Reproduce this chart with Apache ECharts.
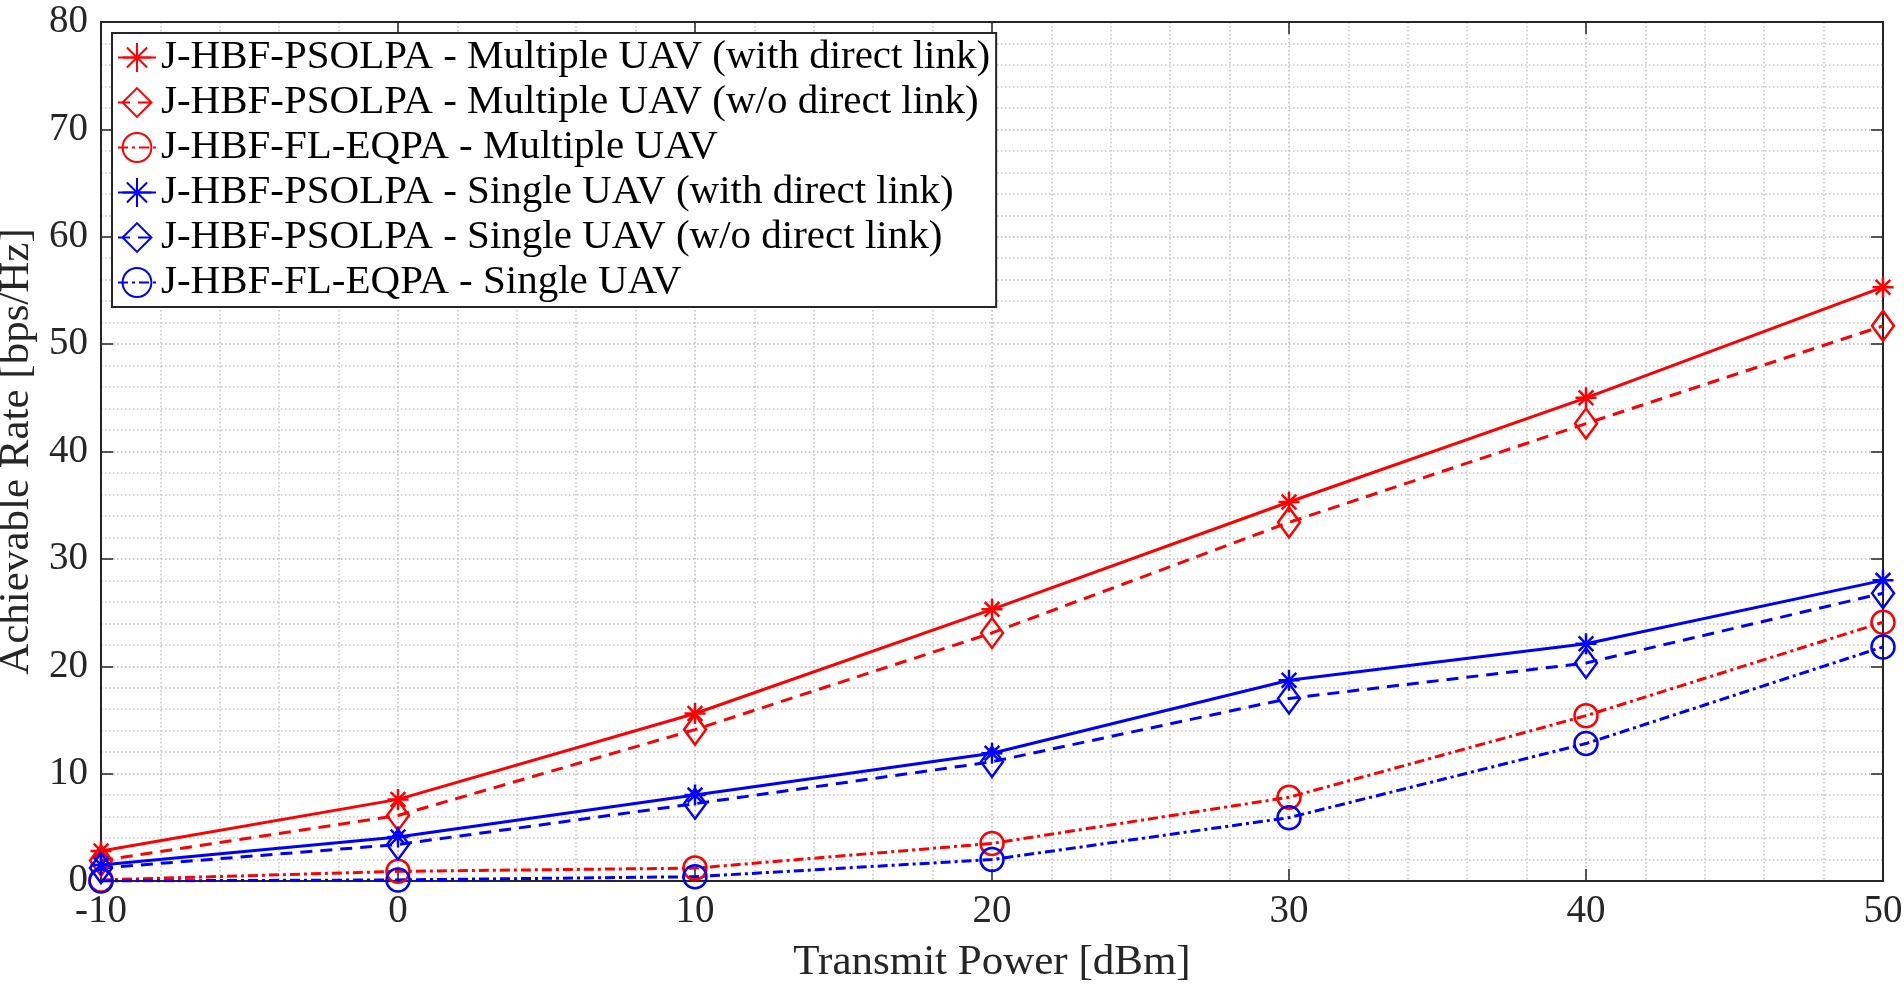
<!DOCTYPE html>
<html>
<head>
<meta charset="utf-8">
<title>Achievable Rate vs Transmit Power</title>
<script src="https://cdn.jsdelivr.net/npm/echarts@6/dist/echarts.min.js"></script>
<style>
	html, body { margin: 0; padding: 0; background: #fff; }
	#rate_chart { width: 1904px; height: 987px; }
</style>
</head>
<body>
<div id="rate_chart"></div>
<script>
// x axis: transmit power in dBm
var powerDbm = [-10, 0, 10, 20, 30, 40, 50];

// achievable rate [bps/Hz]
var multiDirect   = [2.8, 7.6, 15.6, 25.3, 35.3, 45.0, 55.3];
var multiNoDirect = [1.9, 6.1, 14.1, 23.1, 33.4, 42.6, 51.7];
var multiEqpa     = [0.1, 0.9, 1.2, 3.5, 7.8, 15.4, 24.1];
var singleDirect   = [1.5, 4.1, 8.0, 11.9, 18.7, 22.1, 28.0];
var singleNoDirect = [1.2, 3.4, 7.2, 11.1, 17.0, 20.3, 26.8];
var singleEqpa     = [0.0, 0.1, 0.4, 2.0, 5.9, 12.8, 21.8];

var seriesNames = [
	'J-HBF-PSOLPA - Multiple UAV (with direct link)',
	'J-HBF-PSOLPA - Multiple UAV (w/o direct link)',
	'J-HBF-FL-EQPA - Multiple UAV',
	'J-HBF-PSOLPA - Single UAV (with direct link)',
	'J-HBF-PSOLPA - Single UAV (w/o direct link)',
	'J-HBF-FL-EQPA - Single UAV'
];

var FONT = 'Liberation Serif';
var INK = '#262626';
var STAR = 'path://M0,-10L0,10M-10,0L10,0M-7,-7L7,7M-7,7L7,-7';

function pairs(values) {
	var out = [];
	for (var i = 0; i < powerDbm.length; i++) {
		out.push([powerDbm[i], values[i]]);
	}
	return out;
}

// one MATLAB style line: unfilled marker, coloured edge
function makeSeries(name, values, color, marker, dash) {
	var size = marker === STAR ? 21 : (marker === 'diamond' ? [22, 30] : 23);
	return {
		name: name,
		type: 'line',
		data: pairs(values),
		symbol: marker,
		symbolSize: size,
		color: color,
		itemStyle: {
			color: 'rgba(0,0,0,0)',
			borderColor: color,
			borderWidth: 2.5
		},
		lineStyle: {
			color: color,
			width: 3,
			type: dash
		},
		emphasis: { disabled: true },
		animation: false
	};
}

var chart = echarts.init(document.getElementById('rate_chart'));

var gridLine = { show: true, lineStyle: { color: '#b8b8b8', width: 1.5, type: [1.5, 2.5] } };
var minorLine = { show: true, lineStyle: { color: '#c4c4c4', width: 1.5, type: [1.5, 2.5] } };
var boxLine = { show: true, onZero: false, lineStyle: { color: INK, width: 2 } };
var innerTick = { show: true, inside: true, length: 12, lineStyle: { color: INK, width: 1.5 } };

var option = {
	backgroundColor: '#fff',
	textStyle: { fontFamily: FONT },
	// fixed plot box, do not let labels push it around
	grid: { left: 101, right: 21, top: 22, bottom: 106, containLabel: false, outerBoundsMode: 'none' },
	legend: {
		orient: 'vertical',
		left: 112,
		top: 33,
		padding: [2, 6, 2, 5],
		itemGap: 0,
		itemWidth: 38,
		itemHeight: 36,
		backgroundColor: '#fff',
		borderColor: INK,
		borderWidth: 2,
		borderRadius: 0,
		textStyle: { fontFamily: FONT, fontSize: 41, color: '#000', lineHeight: 45 },
		data: seriesNames
	},
	xAxis: [
		{
			type: 'value', min: -10, max: 50, interval: 10,
			name: 'Transmit Power [dBm]', nameLocation: 'middle', nameGap: 60,
			nameTextStyle: { fontFamily: FONT, fontSize: 43, color: INK },
			axisLine: boxLine, axisTick: innerTick,
			axisLabel: { fontFamily: FONT, fontSize: 39, color: INK, margin: 11 },
			splitLine: gridLine,
			minorTick: { show: false, splitNumber: 5 },
			minorSplitLine: minorLine
		},
		{
			type: 'value', min: -10, max: 50, interval: 10, position: 'top',
			axisLine: boxLine, axisTick: innerTick,
			axisLabel: { show: false }, splitLine: { show: false }
		}
	],
	yAxis: [
		{
			type: 'value', min: 0, max: 80, interval: 10,
			name: 'Achievable Rate [bps/Hz]', nameLocation: 'middle', nameGap: 50,
			nameTextStyle: { fontFamily: FONT, fontSize: 43, color: INK },
			axisLine: boxLine, axisTick: innerTick,
			axisLabel: { fontFamily: FONT, fontSize: 39, color: INK, margin: 13 },
			splitLine: gridLine,
			minorTick: { show: false, splitNumber: 5 },
			minorSplitLine: minorLine
		},
		{
			type: 'value', min: 0, max: 80, interval: 10, position: 'right',
			axisLine: boxLine, axisTick: innerTick,
			axisLabel: { show: false }, splitLine: { show: false }
		}
	],
	series: [
		makeSeries(seriesNames[0], multiDirect, '#ff0000', STAR, 'solid'),
		makeSeries(seriesNames[1], multiNoDirect, '#ff0000', 'diamond', [12, 8]),
		makeSeries(seriesNames[2], multiEqpa, '#ff0000', 'circle', [10, 4, 3, 4]),
		makeSeries(seriesNames[3], singleDirect, '#0000ff', STAR, 'solid'),
		makeSeries(seriesNames[4], singleNoDirect, '#0000ff', 'diamond', [12, 8]),
		makeSeries(seriesNames[5], singleEqpa, '#0000ff', 'circle', [10, 4, 3, 4])
	]
};

chart.setOption(option);
</script>
</body>
</html>
